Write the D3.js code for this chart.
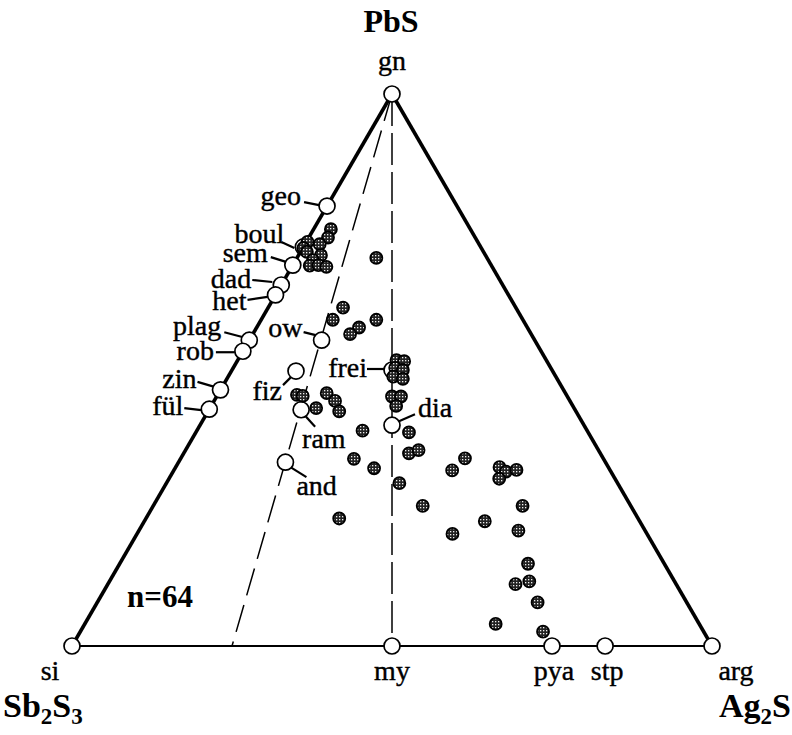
<!DOCTYPE html>
<html>
<head>
<meta charset="utf-8">
<script src="https://cdn.jsdelivr.net/npm/d3@7"></script>
<style>
body { margin: 0; background: #fff; }
svg { display: block; }
text { font-family: "Liberation Serif", "Times New Roman", serif; fill: #000; }
</style>
</head>
<body>
<div id="chart"></div>
<script>
// end-member minerals, mol% PbS and mol% Ag2S (rest is Sb2S3)
var mineralNames = ['gn', 'si', 'my', 'pya', 'stp', 'arg', 'geo', 'boul', 'sem', 'dad', 'het',
    'plag', 'rob', 'zin', 'fül', 'ow', 'fiz', 'frei', 'ram', 'dia', 'and'];
var mineralPbS = [100, 0, 0, 0, 0, 0, 79.7, 72.3, 69.0, 65.4, 63.6,
    55.4, 53.4, 46.4, 42.9, 55.4, 49.8, 50.0, 42.8, 40.0, 33.3];
var mineralAg2S = [0, 0, 50, 75, 83.3, 100, 0, 0, 0, 0, 0,
    0, 0, 0, 0, 11.3, 10.1, 25.0, 14.4, 30.0, 16.7];

// analyses (n=64), mol% PbS and mol% Ag2S
var analysisPbS = [75.5, 74.0, 72.8, 73.2, 72.1, 71.4, 70.8, 69.9, 68.9, 69.0, 68.7,
    70.3, 61.3, 59.1, 57.7, 56.5, 59.1,
    51.8, 51.6, 50.4, 50.0, 48.8, 48.4, 45.2, 45.2, 43.5,
    45.5, 45.3, 43.1, 45.8, 44.4, 42.5,
    39.0, 38.7, 34.9, 35.5, 33.9, 32.2, 29.5, 31.8, 34.0, 32.4, 31.6, 31.9, 30.3,
    25.4, 25.4, 22.6, 20.3, 20.9, 23.1, 14.9, 11.2, 11.7, 7.9, 4.0, 2.6];
var analysisAg2S = [2.7, 3.0, 2.3, 0.2, 0.1, 1.0, 3.5, 2.7, 2.7, 4.0, 5.4,
    12.4, 11.7, 11.2, 16.0, 15.2, 18.0,
    24.8, 26.1, 25.3, 26.7, 25.8, 27.5, 27.4, 28.8, 28.9,
    12.4, 13.4, 16.6, 16.9, 18.9, 20.5,
    25.9, 33.3, 35.2, 36.4, 27.1, 31.1, 36.4, 43.5, 44.4, 50.6, 52.0, 53.5, 51.6,
    42.1, 57.7, 53.2, 49.3, 59.3, 30.2, 63.8, 63.7, 65.6, 68.8, 64.2, 72.3];

// tie lines from galena: to miargyrite and to Ag2S:Sb2S3 = 1:3
var joinEndAg2S = [50, 25];
var joinDash = ['32,7', '28,10'];

var width = 792, height = 735;
var x = d3.scaleLinear().domain([0, 100]).range([72, 712]);
var y = d3.scaleLinear().domain([0, 100]).range([646, 94]);
function px(pbs, ag) { return x(ag + pbs / 2); }
function py(pbs) { return y(pbs); }

// label placement relative to the circle: text anchor point and leader line
var labelPos = {
    gn: {a: 'middle', dx: 0, dy: -24},
    si: {a: 'middle', dx: -22, dy: 34},
    my: {a: 'middle', dx: 0, dy: 34},
    pya: {a: 'middle', dx: 2, dy: 34},
    stp: {a: 'middle', dx: 2, dy: 34},
    arg: {a: 'middle', dx: 24, dy: 34},
    geo: {a: 'end', dx: -26, dy: -1, l: [-23, -4, -8, -1]},
    boul: {a: 'end', dx: -19, dy: -4, l: [-22, -5, -9, 1]},
    sem: {a: 'end', dx: -25, dy: -3, l: [-22, -8, -6, -3]},
    dad: {a: 'end', dx: -30, dy: 3, l: [-29, -5, -9, -3]},
    het: {a: 'end', dx: -29, dy: 15, l: [-28, 5, -8, 2]},
    plag: {a: 'end', dx: -28, dy: -5, l: [-25, -8, -6, -3]},
    rob: {a: 'end', dx: -29, dy: 9, l: [-27, 1, -8, 1]},
    zin: {a: 'end', dx: -24, dy: -2, l: [-23, -8, -6, -3]},
    'fül': {a: 'end', dx: -26, dy: 6, l: [-25, -1, -8, 1]},
    ow: {a: 'end', dx: -19, dy: -3, l: [-18, -8, -6, -5]},
    fiz: {a: 'end', dx: -14, dy: 29, l: [-5, 6, -13, 14]},
    frei: {a: 'end', dx: -25, dy: 7, l: [-25, -1, -8, -1]},
    ram: {a: 'start', dx: 1, dy: 38, l: [4, 6, 14, 17]},
    dia: {a: 'start', dx: 26, dy: -8, l: [7, -4, 23, -11]},
    and: {a: 'start', dx: 11, dy: 33, l: [5, 5, 21, 15]}
};

var svg = d3.select('#chart').append('svg')
    .attr('width', width)
    .attr('height', height);

var defs = svg.append('defs');
var pat = defs.append('pattern').attr('id', 'speckle')
    .attr('patternUnits', 'userSpaceOnUse')
    .attr('width', 3).attr('height', 3);
pat.append('rect').attr('width', 3).attr('height', 3).attr('fill', '#222');
pat.append('rect').attr('width', 1.3).attr('height', 1.3).attr('fill', '#eee');

// triangle
var corners = [[100, 0], [0, 0], [0, 100]];
var cp = corners.map(function(c) { return [px(c[0], c[1]), py(c[0])]; });
svg.append('line').attr('x1', cp[1][0]).attr('y1', cp[1][1]).attr('x2', cp[2][0]).attr('y2', cp[2][1])
    .attr('stroke', '#000').attr('stroke-width', 2.2);
svg.append('line').attr('x1', cp[0][0]).attr('y1', cp[0][1]).attr('x2', cp[1][0]).attr('y2', cp[1][1])
    .attr('stroke', '#000').attr('stroke-width', 3.6);
svg.append('line').attr('x1', cp[0][0]).attr('y1', cp[0][1]).attr('x2', cp[2][0]).attr('y2', cp[2][1])
    .attr('stroke', '#000').attr('stroke-width', 3.6);

// dashed joins
svg.selectAll('.join').data(joinEndAg2S).enter().append('line')
    .attr('x1', px(100, 0)).attr('y1', py(100))
    .attr('x2', function(d) { return px(0, d); }).attr('y2', py(0))
    .attr('stroke', '#000').attr('stroke-width', 1.5)
    .attr('stroke-dasharray', function(d, i) { return joinDash[i]; });

// end members
var minerals = mineralNames.map(function(n, i) {
    return {name: n, cx: px(mineralPbS[i], mineralAg2S[i]), cy: py(mineralPbS[i])};
});
var mg = svg.selectAll('.mineral').data(minerals).enter().append('g')
    .attr('transform', function(d) { return 'translate(' + d.cx + ',' + d.cy + ')'; });
mg.filter(function(d) { return labelPos[d.name].l; }).append('line')
    .attr('x1', function(d) { return labelPos[d.name].l[0]; })
    .attr('y1', function(d) { return labelPos[d.name].l[1]; })
    .attr('x2', function(d) { return labelPos[d.name].l[2]; })
    .attr('y2', function(d) { return labelPos[d.name].l[3]; })
    .attr('stroke', '#000').attr('stroke-width', 2.2);
mg.append('circle').attr('r', 8)
    .attr('fill', '#fff').attr('stroke', '#000').attr('stroke-width', 1.7);
mg.append('text')
    .attr('x', function(d) { return labelPos[d.name].dx; })
    .attr('y', function(d) { return labelPos[d.name].dy; })
    .attr('text-anchor', function(d) { return labelPos[d.name].a; })
    .style('font-size', '28px')
    .style('stroke', '#000').style('stroke-width', '0.4px')
    .text(function(d) { return d.name; });

// analyses
svg.selectAll('.dot').data(analysisPbS).enter().append('circle')
    .attr('cx', function(d, i) { return px(d, analysisAg2S[i]); })
    .attr('cy', function(d) { return py(d); })
    .attr('r', 6)
    .attr('fill', 'url(#speckle)')
    .attr('stroke', '#000').attr('stroke-width', 1.8);

// corner labels
svg.append('text').attr('x', 391).attr('y', 32).attr('text-anchor', 'middle')
    .style('font-size', '32px').style('font-weight', 'bold').text('PbS');
var sb = svg.append('text').attr('x', 3).attr('y', 717)
    .style('font-size', '34px').style('font-weight', 'bold');
sb.append('tspan').text('Sb');
sb.append('tspan').attr('dy', 7).style('font-size', '23px').text('2');
sb.append('tspan').attr('dy', -7).text('S');
sb.append('tspan').attr('dy', 7).style('font-size', '23px').text('3');
var ag = svg.append('text').attr('x', 791).attr('y', 717).attr('text-anchor', 'end')
    .style('font-size', '34px').style('font-weight', 'bold');
ag.append('tspan').text('Ag');
ag.append('tspan').attr('dy', 7).style('font-size', '23px').text('2');
ag.append('tspan').attr('dy', -7).text('S');

svg.append('text').attr('x', 127).attr('y', 607)
    .style('font-size', '31px').style('font-weight', 'bold').text('n=64');
</script>
</body>
</html>
